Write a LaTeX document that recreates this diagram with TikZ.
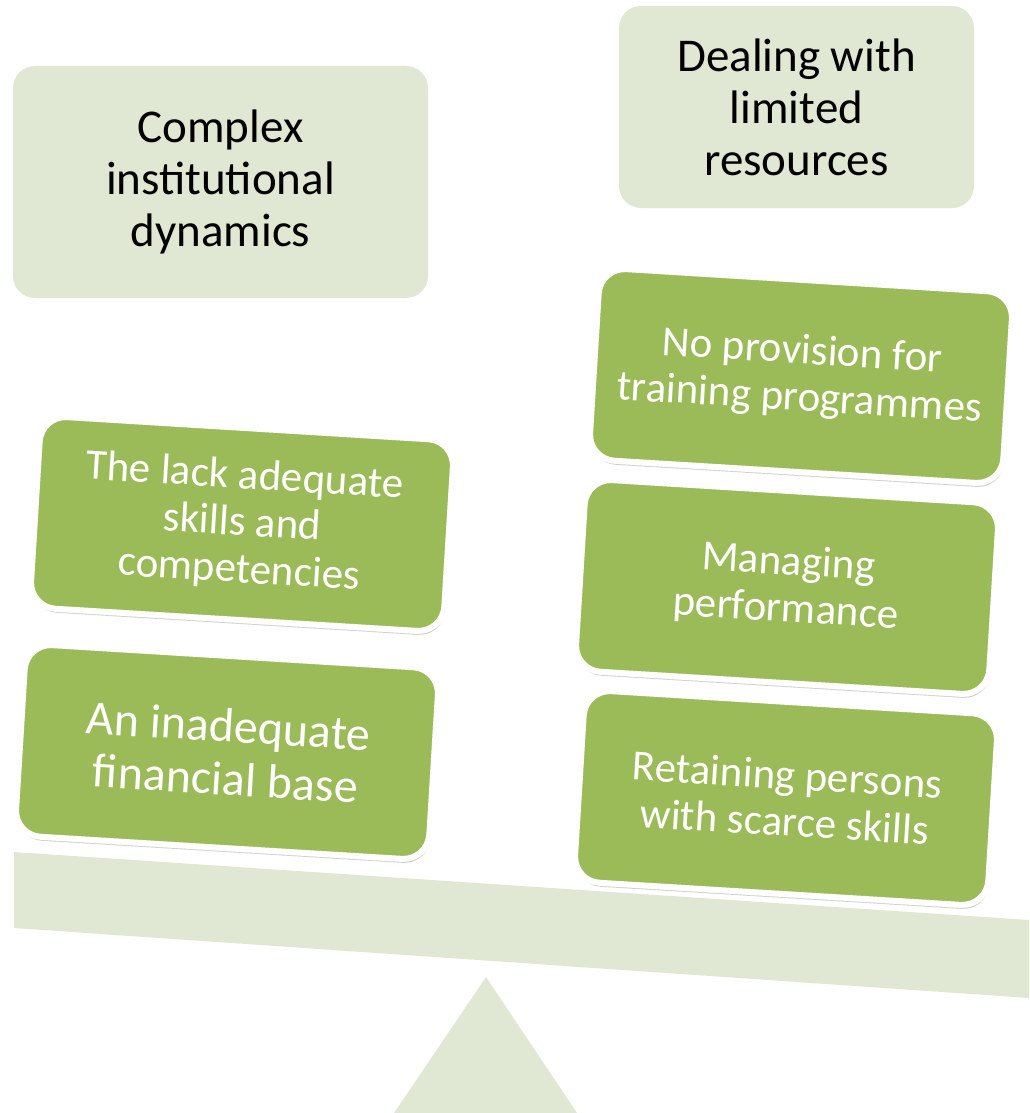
\documentclass[tikz,border=0pt]{standalone}
\usepackage{fontspec}
\setmainfont{Carlito}
\usetikzlibrary{shadows}
\definecolor{palegreen}{RGB}{224,232,211}
\definecolor{leafgreen}{RGB}{155,187,89}

\begin{document}
\begin{tikzpicture}[x=1pt, y=-1pt]
\tikzstyle{heading} = [fill=palegreen, rounded corners=22pt, align=center, inner sep=0pt, font=\fontsize{47}{52}\selectfont]
\tikzstyle{weight} = [fill=leafgreen, draw=white, line width=6pt, rounded corners=26pt, align=center, text=white, inner sep=0pt,
	minimum width=414pt, minimum height=192pt, rotate=-3.5, font=\fontsize{43}{47}\selectfont,
	drop shadow={shadow xshift=1pt, shadow yshift=-4pt, opacity=0.3, fill=black!60}]
\useasboundingbox (0,0) rectangle (1029,1113);

	\fill[palegreen] (14,852) -- (1029,920) -- (1029,998) -- (14,928) -- cycle; %beam
	\fill[palegreen] (486,977) -- (577,1113) -- (394,1113) -- cycle; %pivot

	\node[heading, minimum width=415pt, minimum height=232pt] (complex) at (220.5,182) {Complex\\institutional\\dynamics};
	\node[heading, minimum width=355pt, minimum height=202pt] (limited) at (796.5,107) {Dealing with\\limited\\resources};

	\node[weight] (skills) at (242,524) {The lack adequate\\skills and\\competencies};
	\node[weight, font=\fontsize{48}{53}\selectfont] (finance) at (227,752) {An inadequate\\financial base};

	\node[weight] (training) at (801,376) {No provision for\\training programmes};
	\node[weight] (performance) at (787,587) {Managing\\performance};
	\node[weight] (retaining) at (786,798) {Retaining persons\\with scarce skills};
\end{tikzpicture}
\end{document}
